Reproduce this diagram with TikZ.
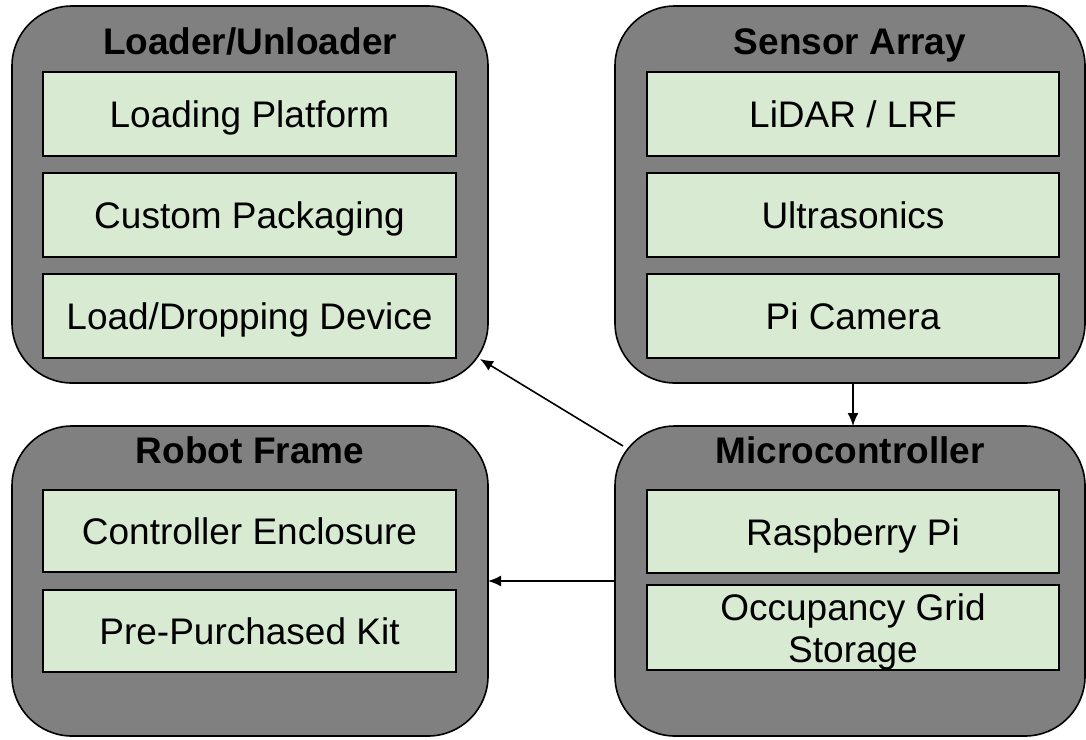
\documentclass[tikz,border=0pt]{standalone}
\usepackage{fontspec}
\setmainfont{Liberation Sans}
\usetikzlibrary{arrows.meta}
\definecolor{outergray}{HTML}{808080}
\definecolor{innergreen}{HTML}{D9EAD3}
\begin{document}
\begin{tikzpicture}[x=1pt,y=-1pt,
  outerbox/.style={draw=black, line width=1.6pt, fill=outergray, rounded corners=60pt,
    inner sep=0pt, outer sep=0pt, anchor=north west},
  innerbox/.style={draw=black, line width=1.6pt, fill=innergreen, inner sep=0pt, outer sep=0pt,
    anchor=north west, font=\fontsize{37}{42}\selectfont},
  oneline/.style={text height=35pt, text depth=7.5pt},
  titletext/.style={anchor=base, inner sep=0pt, font=\fontsize{37}{42}\selectfont\bfseries},
  conn/.style={line width=1.6pt, -{Latex[length=13pt,width=11pt]}}
]
\useasboundingbox (0,0) rectangle (1086,739);

% outer groups
\node[outerbox, minimum width=476pt, minimum height=377pt] (loader) at (12,6) {};
\node[outerbox, minimum width=470pt, minimum height=377pt] (sensor) at (615,6) {};
\node[outerbox, minimum width=476pt, minimum height=310pt] (robot) at (12,426) {};
\node[outerbox, minimum width=470pt, minimum height=310pt] (micro) at (615,426) {};

% titles
\node[titletext] (tloader) at (250,54) {Loader/Unloader};
\node[titletext] (tsensor) at (850,54) {Sensor Array};
\node[titletext] (trobot) at (250,463) {Robot Frame};
\node[titletext] (tmicro) at (850,463) {Microcontroller};

% loader items
\node[innerbox, oneline, minimum width=413pt, minimum height=84pt] (lp) at (43,72) {Loading Platform};
\node[innerbox, oneline, minimum width=413pt, minimum height=84pt] (cp) at (43,173) {Custom Packaging};
\node[innerbox, oneline, minimum width=413pt, minimum height=84pt] (ld) at (43,274) {Load/Dropping Device};

% sensor items
\node[innerbox, oneline, minimum width=412pt, minimum height=84pt] (lidar) at (647,72) {LiDAR / LRF};
\node[innerbox, oneline, minimum width=412pt, minimum height=84pt] (ultra) at (647,173) {Ultrasonics};
\node[innerbox, oneline, minimum width=412pt, minimum height=84pt] (cam) at (647,274) {Pi Camera};

% robot frame items
\node[innerbox, oneline, minimum width=413pt, minimum height=82pt] (ce) at (43,490) {Controller Enclosure};
\node[innerbox, oneline, minimum width=413pt, minimum height=82pt] (kit) at (43,590) {Pre-Purchased Kit};

% microcontroller items
\node[innerbox, oneline, minimum width=412pt, minimum height=83pt] (rpi) at (647,490) {Raspberry Pi};
\node[innerbox, align=center, minimum width=412pt, minimum height=85pt] (ogs) at (647,585) {\rule{0pt}{0.95em}Occupancy Grid\\Storage};

% connectors
\draw[conn] ([xshift=3pt]sensor.south) -- ([xshift=3pt]micro.north);
\draw[conn] ([shift={(8pt,-20pt)}]micro.north west) -- ([shift={(-8pt,24pt)}]loader.south east);
\draw[conn] (micro.west) -- (robot.east);
\end{tikzpicture}
\end{document}
